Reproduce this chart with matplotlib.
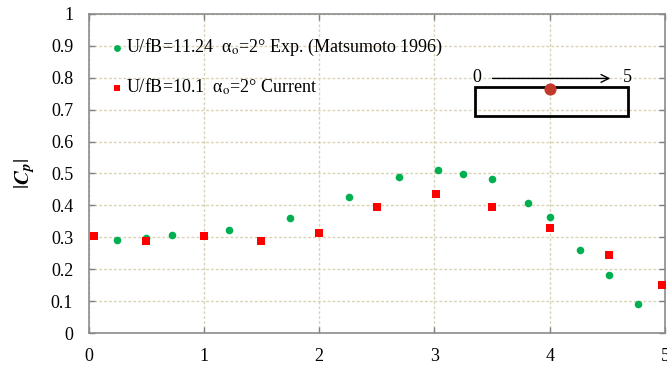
import matplotlib
matplotlib.use("Agg")
import matplotlib.pyplot as plt
from matplotlib.patches import Rectangle

plt.rcParams['font.family'] = ['Liberation Serif', 'DejaVu Serif']
plt.rcParams['mathtext.fontset'] = 'stix'

# Experimental data (Matsumoto 1996)
exp_x = [0.25, 0.50, 0.72, 1.22, 1.75, 2.26, 2.69, 3.03, 3.25, 3.50, 3.81, 4.00, 4.26, 4.51, 4.77]
exp_cp = [0.290, 0.297, 0.306, 0.322, 0.360, 0.425, 0.488, 0.511, 0.498, 0.483, 0.408, 0.365, 0.259, 0.183, 0.092]

# Current computation
cur_x = [0.05, 0.50, 1.00, 1.50, 2.00, 2.50, 3.01, 3.50, 4.00, 4.51, 4.97]
cur_cp = [0.305, 0.287, 0.305, 0.287, 0.313, 0.394, 0.437, 0.396, 0.330, 0.245, 0.150]

x_ticks = [0, 1, 2, 3, 4, 5]
y_ticks = [0, 0.1, 0.2, 0.3, 0.4, 0.5, 0.6, 0.7, 0.8, 0.9, 1.0]
y_tick_labels = ['0', '0.1', '0.2', '0.3', '0.4', '0.5', '0.6', '0.7', '0.8', '0.9', '1']

fig = plt.figure(figsize=(6.67, 3.71), dpi=100)
ax = fig.add_axes([0.1327, 0.1024, 0.8643, 0.8599])

ax.scatter(exp_x, exp_cp, s=30, marker='o', color='#00b050', linewidths=0, zorder=3,
           label='U/fB=11.24  α$_\\mathrm{o}$=2° Exp. (Matsumoto 1996)')
ax.scatter(cur_x, cur_cp, s=30, marker='s', color='#ff0000', linewidths=0, zorder=3,
           label='U/fB=10.1  α$_\\mathrm{o}$=2° Current')

ax.set_xlim(0, 5)
ax.set_ylim(0, 1)
ax.set_xticks(x_ticks)
ax.set_xticklabels([str(v) for v in x_ticks])
ax.set_yticks(y_ticks)
ax.set_yticklabels(y_tick_labels)
ax.tick_params(axis='both', labelsize=13, colors='#808080', labelcolor='black', length=4,
               direction='in', width=1, top=True, right=True)
ax.tick_params(axis='x', pad=11)
ax.tick_params(axis='y', pad=11)

ax.grid(True, linestyle=(0, (2, 1.5)), color='#d9d2b4', linewidth=1)
ax.set_axisbelow(True)
for s in ax.spines.values():
    s.set_color('#8c8c8c')
    s.set_linewidth(1.2)

ax.set_ylabel(r'$|\boldsymbol{C}_{\boldsymbol{p}}|$', fontsize=15, labelpad=10)

leg = ax.legend(loc='upper left', bbox_to_anchor=(0.009, 0.978), frameon=False, fontsize=13,
                handletextpad=0.1, handlelength=0.8, labelspacing=1.0, markerscale=0.9)

# Section sketch: chord coordinate arrow, section outline and tap location
ax.text(3.37, 0.80, '0', fontsize=13, ha='center', va='center')
ax.text(4.67, 0.80, '5', fontsize=13, ha='center', va='center')
ax.annotate('', xy=(4.55, 0.798), xytext=(3.48, 0.798),
            arrowprops=dict(arrowstyle='->', color='black', lw=1, mutation_scale=14))
ax.add_patch(Rectangle((3.35, 0.68), 1.33, 0.09, fill=False, edgecolor='black', linewidth=2, zorder=4))
ax.scatter([4.0], [0.765], s=60, color='#c0392b', zorder=5)

fig.savefig('out.png', dpi=100)
